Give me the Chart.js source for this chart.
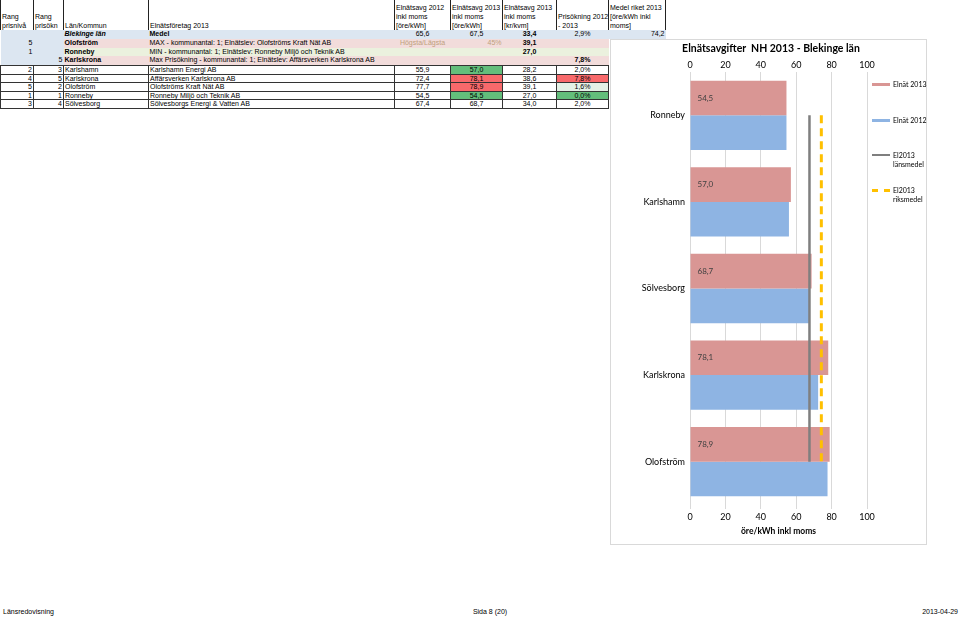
<!DOCTYPE html>
<html lang="sv">
<head>
<meta charset="utf-8">
<title>Elnätsavgifter NH 2013 - Blekinge län</title>
<script src="https://cdn.jsdelivr.net/npm/chart.js@4/dist/chart.umd.min.js"></script>
<style>
  body { margin: 0; width: 960px; height: 618px; position: relative; overflow: hidden; background: #fff;
         font-family: "Liberation Sans", Arial, sans-serif; color: #000; }
  #tbl { position: absolute; left: 0; top: 0; border-collapse: collapse; table-layout: fixed; width: 665px;
         font-size: 7px; line-height: 8.75px; color: #000; }
  #tbl td { padding: 0 1px; white-space: nowrap; overflow: visible; height: 8.75px; }
  #tbl tr.hdr td { height: 30px; line-height: 9px; vertical-align: bottom; border-left: 1px solid #222; border-right: 1px solid #222; }
  #tbl tr.data td { border: 1px solid #333; height: 7.6px; line-height: 7.6px; }
  #tbl tr.data td.nb { border: none; }
  .c { text-align: center; }
  .r { text-align: right; }
  .b { font-weight: bold; }
  .bi { font-weight: bold; font-style: italic; }
  .blue { background: #dce6f1; }
  .pink { background: #f2dcdb; }
  .lgreen { background: #ebf1de; }
  .green { background: #63be7b; }
  .red { background: #f8696b; }
  .pale { background: #e4f1e6; }
  .tan { color: #c0a07c; }
  #chartBox { position: absolute; left: 610px; top: 39px; width: 317px; height: 506px; box-sizing: border-box;
              border: 1px solid #d9d9d9; background: #fff; }
  #canvasWrap { position: absolute; left: 611px; top: 40px; width: 315px; height: 504px; }
  #chartTitle { position: absolute; left: 610px; top: 41px; width: 322px; text-align: center;
                font: bold 10.5px Lato, sans-serif; line-height: 14px; }
  .lg { position: absolute; left: 872px; font: 7px Lato, sans-serif; line-height: 9px; }
  .lg .sw { position: absolute; left: 0; width: 18px; }
  .lg .tx { position: absolute; left: 21px; top: -4.5px; white-space: nowrap; }
  .foot { position: absolute; top: 607px; font-size: 7px; line-height: 10px; }
</style>
</head>
<body>

<table id="tbl">
  <colgroup>
    <col style="width:33px"><col style="width:30px"><col style="width:85px"><col style="width:246px">
    <col style="width:56px"><col style="width:52px"><col style="width:54px"><col style="width:52px"><col style="width:57px">
  </colgroup>
  <tr class="hdr">
    <td>Rang<br>prisnivå</td><td>Rang<br>prisökn</td><td>Län/Kommun</td><td>Elnätsföretag 2013</td>
    <td>Elnätsavg 2012<br>inkl moms<br>[öre/kWh]</td><td>Elnätsavg 2013<br>inkl moms<br>[öre/kWh]</td>
    <td>Elnätsavg 2013<br>inkl moms<br>[kr/kvm]</td><td>Prisökning 2012<br>- 2013</td>
    <td>Medel riket 2013<br>[öre/kWh inkl<br>moms]</td>
  </tr>
  <tr class="blue">
    <td></td><td></td><td class="bi">Blekinge län</td><td class="b">Medel</td>
    <td class="c">65,6</td><td class="c">67,5</td><td class="c b">33,4</td><td class="c">2,9%</td><td class="r">74,2</td>
  </tr>
  <tr>
    <td class="blue r">5</td><td class="blue"></td><td class="pink b">Olofström</td>
    <td class="pink">MAX - kommunantal: 1; Elnätslev: Olofströms Kraft Nät AB</td>
    <td class="pink c tan">Högsta/Lägsta</td><td class="pink r tan">45%</td><td class="pink c b">39,1</td><td class="pink"></td><td></td>
  </tr>
  <tr>
    <td class="blue r">1</td><td class="blue"></td><td class="lgreen b">Ronneby</td>
    <td class="lgreen">MIN - kommunantal: 1; Elnätslev: Ronneby Miljö och Teknik AB</td>
    <td class="lgreen"></td><td class="lgreen"></td><td class="lgreen c b">27,0</td><td class="lgreen"></td><td></td>
  </tr>
  <tr>
    <td class="blue"></td><td class="blue r">5</td><td class="pink b">Karlskrona</td>
    <td class="pink">Max Prisökning - kommunantal: 1; Elnätslev: Affärsverken Karlskrona AB</td>
    <td class="pink"></td><td class="pink"></td><td class="pink"></td><td class="pink c b">7,8%</td><td></td>
  </tr>
  <tr class="data">
    <td class="r">2</td><td class="r">3</td><td>Karlshamn</td><td>Karlshamn Energi AB</td>
    <td class="c">55,9</td><td class="c green">57,0</td><td class="c">28,2</td><td class="c">2,0%</td><td class="nb"></td>
  </tr>
  <tr class="data">
    <td class="r">4</td><td class="r">5</td><td>Karlskrona</td><td>Affärsverken Karlskrona AB</td>
    <td class="c">72,4</td><td class="c red">78,1</td><td class="c">38,6</td><td class="c red">7,8%</td><td class="nb"></td>
  </tr>
  <tr class="data">
    <td class="r">5</td><td class="r">2</td><td>Olofström</td><td>Olofströms Kraft Nät AB</td>
    <td class="c">77,7</td><td class="c red">78,9</td><td class="c">39,1</td><td class="c pale">1,6%</td><td class="nb"></td>
  </tr>
  <tr class="data">
    <td class="r">1</td><td class="r">1</td><td>Ronneby</td><td>Ronneby Miljö och Teknik AB</td>
    <td class="c">54,5</td><td class="c green">54,5</td><td class="c">27,0</td><td class="c green">0,0%</td><td class="nb"></td>
  </tr>
  <tr class="data">
    <td class="r">3</td><td class="r">4</td><td>Sölvesborg</td><td>Sölvesborgs Energi &amp; Vatten AB</td>
    <td class="c">67,4</td><td class="c">68,7</td><td class="c">34,0</td><td class="c">2,0%</td><td class="nb"></td>
  </tr>
</table>

<div id="chartBox"></div>
<div id="canvasWrap"><canvas id="elnatChart"></canvas></div>
<div id="chartTitle">Elnätsavgifter&nbsp; NH 2013 - Blekinge län</div>

<div class="lg" style="top:84px"><div class="sw" style="top:-1.5px;height:3px;background:#d99694"></div><div class="tx">Elnät 2013</div></div>
<div class="lg" style="top:120px"><div class="sw" style="top:-1.5px;height:3px;background:#8eb4e3"></div><div class="tx">Elnät 2012</div></div>
<div class="lg" style="top:155px"><div class="sw" style="top:-1px;height:2px;background:#7f7f7f"></div><div class="tx">El2013<br>länsmedel</div></div>
<div class="lg" style="top:190px"><div class="sw" style="top:-1.5px;height:0;border-top:3px dashed #ffc000"></div><div class="tx">El2013<br>riksmedel</div></div>

<div class="foot" style="left:3px">Länsredovisning</div>
<div class="foot" style="left:440px;width:100px;text-align:center">Sida 8 (20)</div>
<div class="foot" style="right:2px">2013-04-29</div>

<script>
// Kommuner i diagrammet (uppifrån och ned)
const kommuner = ['Ronneby', 'Karlshamn', 'Sölvesborg', 'Karlskrona', 'Olofström'];
// Elnätsavgift inkl moms, öre/kWh
const elnat2013 = [54.5, 57.0, 68.7, 78.1, 78.9];
const elnat2012 = [54.5, 55.9, 67.4, 72.4, 77.7];
// Medelvärden 2013
const lansmedel = [67.5, 67.5, 67.5, 67.5, 67.5];
const riksmedel = [74.2, 74.2, 74.2, 74.2, 74.2];
// Skalans gränser
const xMin = 0;
const xMax = 100;
const xStep = 20;

// Etiketter i de röda staplarna
const barLabels = {
    id: 'barLabels',
    afterDatasetsDraw(chart) {
        const ctx = chart.ctx;
        const meta = chart.getDatasetMeta(2);
        ctx.save();
        ctx.font = '8px Lato';
        ctx.fillStyle = '#404040';
        ctx.textBaseline = 'middle';
        meta.data.forEach((bar, i) => {
            ctx.fillText(elnat2013[i].toFixed(1).replace('.', ','), bar.base + 7, bar.y);
        });
        ctx.restore();
    }
};

const tickFont = { family: 'Lato', size: 9 };

new Chart(document.getElementById('elnatChart'), {
    type: 'bar',
    data: {
        labels: kommuner,
        datasets: [
            {
                type: 'line',
                label: 'El2013 riksmedel',
                data: riksmedel,
                borderColor: '#ffc000',
                borderWidth: 3,
                borderDash: [8, 5],
                pointRadius: 0,
                order: 0
            },
            {
                type: 'line',
                label: 'El2013 länsmedel',
                data: lansmedel,
                borderColor: '#7f7f7f',
                borderWidth: 2.5,
                pointRadius: 0,
                order: 0
            },
            {
                label: 'Elnät 2013',
                data: elnat2013,
                backgroundColor: '#d99694',
                categoryPercentage: 0.8,
                barPercentage: 1.0,
                order: 1
            },
            {
                label: 'Elnät 2012',
                data: elnat2012,
                backgroundColor: '#8eb4e3',
                categoryPercentage: 0.8,
                barPercentage: 1.0,
                order: 1
            }
        ]
    },
    options: {
        indexAxis: 'y',
        responsive: true,
        maintainAspectRatio: false,
        animation: false,
        layout: { padding: { left: 0, right: 59, top: 0, bottom: 3 } },
        plugins: {
            legend: { display: false },
            tooltip: { enabled: false }
        },
        scales: {
            x: {
                position: 'bottom',
                min: xMin,
                max: xMax,
                ticks: { stepSize: xStep, color: '#000', font: tickFont, padding: 3 },
                grid: { color: '#d9d9d9', tickLength: 4 },
                border: { display: false },
                title: {
                    display: true,
                    text: 'öre/kWh inkl moms',
                    color: '#000',
                    font: { family: 'Lato', size: 8.5, weight: 'bold' },
                    padding: { top: 0, bottom: 5 }
                },
                afterFit(scale) { scale.height = 36; }
            },
            x2: {
                position: 'top',
                axis: 'x',
                min: xMin,
                max: xMax,
                ticks: { stepSize: xStep, color: '#000', font: tickFont, padding: 2 },
                grid: { display: false, drawTicks: false },
                border: { display: false },
                afterFit(scale) { scale.height = 32; }
            },
            y: {
                ticks: { color: '#000', font: tickFont, padding: 5 },
                grid: { display: false, drawTicks: false },
                border: { display: false },
                afterFit(scale) { scale.width = 79; }
            }
        }
    },
    plugins: [barLabels]
});
</script>
</body>
</html>
